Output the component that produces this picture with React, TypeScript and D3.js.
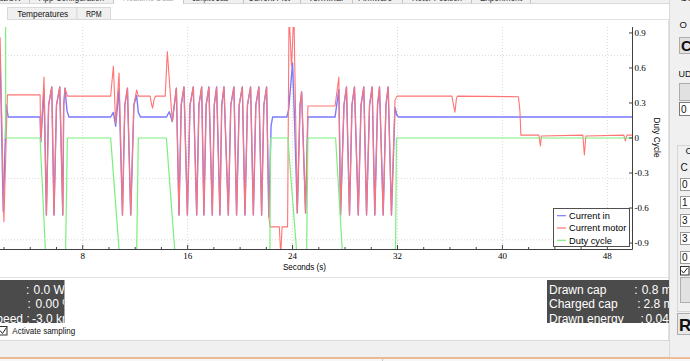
import React from 'react';
import * as d3 from 'd3';

type P = [number, number];

// ---------- chart data ----------
const timeDomain: [number, number] = [0, 49.88];
const dutyDomain: [number, number] = [-0.951, 0.951];
const currentDomain: [number, number] = [-43, 29.32];

const xMajorTicks = [8, 16, 24, 32, 40, 48];
const xMinorTicks = [2, 4, 6, 10, 12, 14, 18, 20, 22, 26, 28, 30, 34, 36, 38, 42, 44, 46];
const dutyTicks = [0.9, 0.6, 0.3, 0, -0.3, -0.6, -0.9];
const currentGridTicks = [20, 0, -20, -40];

const legendNames = ['Current in', 'Current motor', 'Duty cycle'];
const xAxisTitle = 'Seconds (s)';
const yRightTitle = 'Duty Cycle';

// oscillation bursts shared by both current traces
const burstD: P[] = [
  [15.34, -31.9], [15.51, 3.9], [15.72, 9.8],
  [15.98, -31.9], [16.18, 3.9], [16.43, 9.8],
  [16.69, -31.9], [16.86, 3.9], [17.07, 9.8],
  [17.24, -31.9], [17.41, 3.9], [17.62, 9.8],
  [17.88, -31.9], [18.03, 3.9], [18.21, 9.8],
  [18.46, -31.9], [18.60, 3.9], [18.77, 9.8],
  [19.10, -31.9], [19.29, 3.9], [19.53, 9.8],
  [19.73, -31.9], [19.93, 3.9], [20.17, 9.8],
  [20.37, -31.9], [20.56, 3.9], [20.80, 9.8],
  [21.01, -31.9], [21.20, 3.9], [21.43, 9.8],
  [21.64, -31.9], [21.81, 3.9], [22.02, 9.8],
  [22.19, -32.5],
];
const burstE: P[] = [
  [27.66, -31.9], [27.92, 3.9], [28.11, 9.8],
  [28.34, -31.9], [28.53, 3.9], [28.72, 9.8],
  [29.01, -31.9], [29.22, 3.9], [29.43, 9.8],
  [29.64, -31.9], [29.87, 3.9], [30.07, 9.8],
  [30.27, -31.9], [30.48, 3.9], [30.63, 9.8],
  [30.91, -31.9], [31.12, 3.9], [31.29, 9.8],
  [31.54, -31.9],
];
const burstB: P[] = [
  [5.23, -31.9], [5.40, 3.9], [5.64, 9.8],
  [5.81, -31.9], [6.00, 3.9], [6.25, 9.8],
  [6.48, -31.9], [6.55, 3.9], [6.65, 9.4],
];
const burstC: P[] = [
  [11.03, -31.9], [11.21, 3.9], [11.41, 9.4],
  [11.66, -31.9], [11.90, 3.9],
];

const currentMotor: P[] = [
  [1.70, 26.0], [1.99, -34.1], [2.26, 7.2], [4.75, 7.2], [4.80, -8.1], [5.05, 13.0],
  ...burstB,
  [6.83, 6.8], [10.13, 6.8], [10.34, 16.6], [10.51, -2.0], [10.77, 14.3],
  ...burstC,
  [12.11, 8.8], [12.24, 6.8], [13.14, 6.8], [13.26, 3.9], [13.33, 2.9], [13.45, 5.9], [13.56, 6.8],
  [14.29, 6.8], [14.45, 21.3], [14.83, -1.5], [15.14, 9.4],
  ...burstD,
  [22.29, -35.8], [22.99, -35.8], [23.10, -45], [23.20, -35.8], [23.62, -35.8],
  [23.73, 34], [23.92, 16.4], [24.10, 34], [24.36, -31.3], [24.57, 3.9], [24.69, 8.2],
  [24.99, -31.3], [25.17, 3.6], [27.24, 3.6], [27.53, 13.0],
  ...burstE,
  [31.81, 5.5], [31.96, 6.8], [36.15, 6.8], [36.27, 3.9], [36.38, 1.6], [36.50, 6.2], [36.57, 6.8],
  [41.22, 6.6], [41.33, 2.3], [41.41, -5.9], [42.78, -5.9], [42.90, -9.4], [42.97, -6.2],
  [46.13, -5.9], [46.25, -12.4], [46.36, -6.2], [49.26, -5.9], [49.37, -7.8], [49.49, -5.9],
  [49.95, -5.9],
];

const currentIn: P[] = [
  [1.70, 20.0], [1.94, -30.9], [2.17, 3.9], [2.32, 0], [4.75, 0], [4.80, -8.1], [5.05, 9.0],
  ...burstB,
  [6.80, 2.0], [6.95, 0], [10.13, 0], [10.34, 1.5], [10.51, -3.0], [10.77, 9.0],
  ...burstC,
  [12.11, 7.0], [12.24, 1.5], [12.40, 0], [14.38, 0], [14.60, 1.7], [14.83, -1.5], [15.14, 9.4],
  ...burstD,
  [22.36, -2.9], [22.48, 0], [23.56, 0], [23.70, 2.3], [24.00, 17.6], [24.15, -1.0],
  [24.36, -31.3], [24.57, 3.9], [24.69, 8.2], [24.99, -31.3], [25.17, 0], [27.24, 0], [27.53, 9.0],
  ...burstE,
  [31.81, 3.0], [31.96, 0.5], [32.10, 0], [49.95, 0],
];

const dutyCycle: P[] = [
  [1.60, 1.0], [2.12, 1.0], [2.13, 0], [4.75, 0], [5.17, -1.0], [6.69, -1.0], [6.83, 0],
  [10.13, 0], [10.80, -1.0], [12.11, -1.0], [12.24, 0],
  [14.38, 0], [15.04, -1.0], [22.27, -1.0], [22.32, 0],
  [23.64, 0], [24.33, -1.0], [25.07, -1.0], [25.17, 0],
  [27.28, 0], [27.81, -1.0], [31.85, -1.0], [31.92, 0], [49.95, 0],
];

// ---------- surrounding UI text ----------
const topTabNames = ['Motor Configuration', 'App Configuration', 'Realtime Data', 'Sampled Data', 'Current Plot', 'Terminal', 'Firmware', 'Rotor Position', 'Experiment'];
const subTabNames = ['Temperatures', 'RPM'];
const leftInfoLabels = ['Power', 'Duty', 'Motor Speed'];
const leftInfoValues = ['0.0 W', '0.00 %', '-3.0 km/h'];
const rightInfoLabels = ['Drawn cap', 'Charged cap', 'Drawn energy'];
const rightInfoValues = ['0.8 mAh', '2.8 mAh', '0.04 Wh'];

const UI = "'Liberation Sans', Arial, sans-serif";
const SERIF = "'Liberation Serif', 'Times New Roman', serif";
const colors = { cin: '#7a7aff', cmot: '#ff7474', duty: '#7bef7b' };

export default function App() {
  const x = d3.scaleLinear().domain(timeDomain).range([-22.2, 632]);
  const yDuty = d3.scaleLinear().domain(dutyDomain).range([249, 27]);
  const yCur = d3.scaleLinear().domain(currentDomain).range([249, 27]);
  const lineCur = d3.line<P>().x(d => x(d[0])).y(d => yCur(d[1]));
  const lineDuty = d3.line<P>().x(d => x(d[0])).y(d => yDuty(d[1]));

  const plotR = 632, plotT = 27, plotB = 249;

  // tab strip layout
  const tabSeps = [29, 113, 183, 243, 300, 352, 402, 471, 530];
  const tabTextX = [20.5, 39, 123, 192, 248, 308, 358, 412, 480];
  const tabTextW = [0, 65, 50, 36, 42, 35, 34, 50, 42];

  const seriesColors = [colors.cin, colors.cmot, colors.duty];

  return (
    <div style={{ position: 'absolute', left: 0, top: 0, width: 690, height: 361, overflow: 'hidden' }}>
      <svg width={690} height={361} style={{ display: 'block' }} fontFamily={UI}>
        <defs>
          <clipPath id="plotClip"><rect x={-40} y={plotT} width={plotR + 40} height={plotB - plotT} /></clipPath>
          <clipPath id="leftBox"><rect x={0} y={280} width={64.5} height={43} /></clipPath>
          <clipPath id="rightBox"><rect x={547} y={280} width={122} height={43} /></clipPath>
        </defs>
        <rect x={0} y={0} width={690} height={361} fill="#ffffff" />

        {/* top tab strip */}
        <rect x={0} y={0} width={690} height={3.5} fill="#f0f0f0" />
        <rect x={113} y={0} width={70} height={4} fill="#ffffff" />
        <line x1={0} x2={113} y1={3.5} y2={3.5} stroke="#d9d9d9" />
        <line x1={183} x2={670} y1={3.5} y2={3.5} stroke="#d9d9d9" />
        {tabSeps.map((s, i) => (
          <line key={'ts' + i} x1={s + 0.5} x2={s + 0.5} y1={0} y2={3.5} stroke="#c4c4c4" />
        ))}
        {topTabNames.map((n, i) =>
          i === 0 ? (
            <text key={'tt' + i} x={tabTextX[i]} y={1.3} fontSize={11} textAnchor="end" fill="#333">{n}</text>
          ) : (
            <text key={'tt' + i} x={tabTextX[i]} y={1.3} fontSize={11} fill={i === 2 ? '#b0b0b0' : '#333'}
              textLength={tabTextW[i]} lengthAdjust="spacingAndGlyphs">{n}</text>
          )
        )}

        {/* sub tabs */}
        <rect x={7.5} y={7.5} width={69.5} height={12} fill="#f0f0f0" stroke="#d9d9d9" />
        <rect x={77} y={7.5} width={33.5} height={12} fill="#f0f0f0" stroke="#d9d9d9" />
        <text x={17.3} y={17.2} fontSize={8.8} fill="#111" textLength={51} lengthAdjust="spacingAndGlyphs">{subTabNames[0]}</text>
        <text x={86} y={17.2} fontSize={8.8} fill="#111" textLength={15.7} lengthAdjust="spacingAndGlyphs">{subTabNames[1]}</text>
        <line x1={110.5} x2={668.5} y1={19.5} y2={19.5} stroke="#e0e0e0" />
        <line x1={668.5} x2={668.5} y1={19.5} y2={340.5} stroke="#e0e0e0" />
        <line x1={0} x2={668.5} y1={277.5} y2={277.5} stroke="#e3e3e3" />

        {/* grid */}
        {xMajorTicks.map(t => (
          <line key={'gx' + t} x1={x(t)} x2={x(t)} y1={plotT} y2={plotB} stroke="#d8d8d8" strokeDasharray="1,2" />
        ))}
        {currentGridTicks.map(t => (
          <line key={'gy' + t} x1={-40} x2={plotR} y1={yCur(t)} y2={yCur(t)} stroke="#d8d8d8" strokeDasharray="1,2" />
        ))}

        {/* series */}
        <g clipPath="url(#plotClip)" fill="none" strokeLinejoin="round">
          <path d={lineCur(currentIn) || ''} stroke={colors.cin} strokeWidth={1.4} />
          <path d={lineCur(currentMotor) || ''} stroke={colors.cmot} strokeWidth={1.1} />
          <path d={lineDuty(dutyCycle) || ''} stroke={colors.duty} strokeWidth={1.2} />
        </g>

        {/* axes */}
        <line x1={-40} x2={plotR + 0.5} y1={plotB + 0.5} y2={plotB + 0.5} stroke="#404040" />
        <line x1={plotR + 0.5} x2={plotR + 0.5} y1={plotT} y2={plotB + 0.5} stroke="#404040" />
        {xMajorTicks.map(t => (
          <g key={'xt' + t}>
            <line x1={x(t)} x2={x(t)} y1={plotB} y2={plotB - 4} stroke="#404040" />
            <text x={x(t)} y={258.5} fontSize={9} fontFamily={SERIF} textAnchor="middle" fill="#000">{t}</text>
          </g>
        ))}
        {xMinorTicks.map(t => (
          <line key={'xm' + t} x1={x(t)} x2={x(t)} y1={plotB} y2={plotB - 2} stroke="#404040" />
        ))}
        {dutyTicks.map(t => (
          <g key={'yt' + t}>
            <line x1={plotR - 3} x2={plotR} y1={yDuty(t)} y2={yDuty(t)} stroke="#404040" />
            <text x={634.5} y={yDuty(t) + 3} fontSize={9} fontFamily={SERIF} fill="#000">{String(t)}</text>
          </g>
        ))}
        <text x={304.5} y={269.5} fontSize={9} textAnchor="middle" fill="#000" textLength={43} lengthAdjust="spacingAndGlyphs">{xAxisTitle}</text>
        <text transform="translate(653.5,137.5) rotate(90)" fontSize={9} textAnchor="middle" fill="#000" textLength={40} lengthAdjust="spacingAndGlyphs">{yRightTitle}</text>

        {/* legend */}
        <rect x={553.5} y={208.5} width={76} height={38} fill="#ffffff" stroke="#505050" />
        {legendNames.map((n, i) => {
          const ly = 215.7 + i * 12.3;
          return (
            <g key={'lg' + i}>
              <line x1={557} x2={566} y1={ly} y2={ly} stroke={seriesColors[i]} strokeWidth={1.2} />
              <text x={569} y={ly + 3.4} fontSize={9.3} fill="#000">{n}</text>
            </g>
          );
        })}

        {/* dark info boxes */}
        <rect x={0} y={280} width={64.5} height={43} fill="#4b4b4b" />
        <g clipPath="url(#leftBox)" fontSize={12} fill="#ffffff">
          <text y={294}><tspan x={-40}>{leftInfoLabels[0]}</tspan><tspan x={26}>:</tspan><tspan x={33.5}>{leftInfoValues[0]}</tspan></text>
          <text y={307.7}><tspan x={-40}>{leftInfoLabels[1]}</tspan><tspan x={27.5}>:</tspan><tspan x={35.5}>{leftInfoValues[1]}</tspan></text>
          <text y={322.7}><tspan x={23} textAnchor="end">{leftInfoLabels[2]}</tspan><tspan x={26.5} textAnchor="start">:</tspan><tspan x={32} textAnchor="start">{leftInfoValues[2]}</tspan></text>
        </g>
        <rect x={547} y={280} width={122} height={43} fill="#4b4b4b" />
        <g clipPath="url(#rightBox)" fontSize={12} fill="#ffffff">
          <text y={294}><tspan x={549}>{rightInfoLabels[0]}</tspan><tspan x={634.3}>:</tspan><tspan x={641.7}>{rightInfoValues[0]}</tspan></text>
          <text y={308.3}><tspan x={549}>{rightInfoLabels[1]}</tspan><tspan x={637.3}>:</tspan><tspan x={643.5}>{rightInfoValues[1]}</tspan></text>
          <text y={322.7}><tspan x={549}>{rightInfoLabels[2]}</tspan><tspan x={640.5}>:</tspan><tspan x={645.5}>{rightInfoValues[2]}</tspan></text>
        </g>

        {/* checkbox */}
        <rect x={-1.5} y={326.5} width={8.5} height={8.5} fill="#ffffff" stroke="#333" />
        <path d="M0,330.5 L2.5,333.5 L6.5,327.5" fill="none" stroke="#222" strokeWidth={1} />
        <text x={12.3} y={333.6} fontSize={9.5} fill="#111" textLength={63} lengthAdjust="spacingAndGlyphs">Activate sampling</text>

        {/* bottom area */}
        <line x1={0} x2={670} y1={340.5} y2={340.5} stroke="#d9d9d9" />
        <rect x={0} y={341} width={690} height={16.5} fill="#f0f0f0" />
        <line x1={0} x2={690} y1={358} y2={358} stroke="#e9a36f" strokeWidth={1.5} />
        <rect x={0} y={359} width={690} height={2} fill="#f7f7f7" />
        <line x1={382.5} x2={382.5} y1={359} y2={361} stroke="#c8c8c8" />

        {/* right side panel */}
        <rect x={670} y={0} width={20} height={357.2} fill="#f0f0f0" />
        <line x1={669.5} x2={669.5} y1={0} y2={357} stroke="#dadada" />
        <text x={680} y={1.3} fontSize={11} fill="#333">Se</text>
        <text x={679.5} y={28} fontSize={9.5} fill="#111">O</text>
        <rect x={679.5} y={37.5} width={15} height={16} fill="#e1e1e1" stroke="#adadad" />
        <text x={681} y={51} fontSize={15} fontWeight="bold" fill="#111">C</text>
        <text x={678.5} y={77} fontSize={9} fill="#111">UD</text>
        <rect x={679.5} y={83.5} width={15} height={17} fill="#e1e1e1" stroke="#adadad" />
        <rect x={679.5} y={102.5} width={15} height={13} fill="#ffffff" stroke="#7a7a7a" />
        <text x={681} y={113} fontSize={10} fill="#111">0</text>
        <rect x={677.5} y={145.5} width={20} height={166} fill="none" stroke="#d5d5d5" />
        <text x={685.5} y={154} fontSize={9.5} fill="#111">C</text>
        <text x={680.5} y={171} fontSize={10} fill="#111">C</text>
        {['0', '1', '3', '3', '0'].map((v, i) => {
          const by = [178.5, 196.5, 214.5, 232.5, 251.5][i];
          return (
            <g key={'sb' + i}>
              <rect x={680.5} y={by} width={12} height={12} fill="#ffffff" stroke="#9a9a9a" />
              <text x={682} y={by + 9.8} fontSize={10} fill="#111">{v}</text>
            </g>
          );
        })}
        <rect x={680.5} y={266.5} width={8.5} height={8.5} fill="#ffffff" stroke="#333" />
        <path d="M681.5,270.5 L683.5,273 L687.5,268" fill="none" stroke="#222" />
        <rect x={680.5} y={277.5} width={12} height={25} fill="#e1e1e1" stroke="#adadad" />
        <rect x={677.5} y={313.5} width={15} height={21} fill="#e8e8e8" stroke="#adadad" />
        <text x={679} y={331} fontSize={17} fontWeight="bold" fill="#111">R</text>
      </svg>
    </div>
  );
}
